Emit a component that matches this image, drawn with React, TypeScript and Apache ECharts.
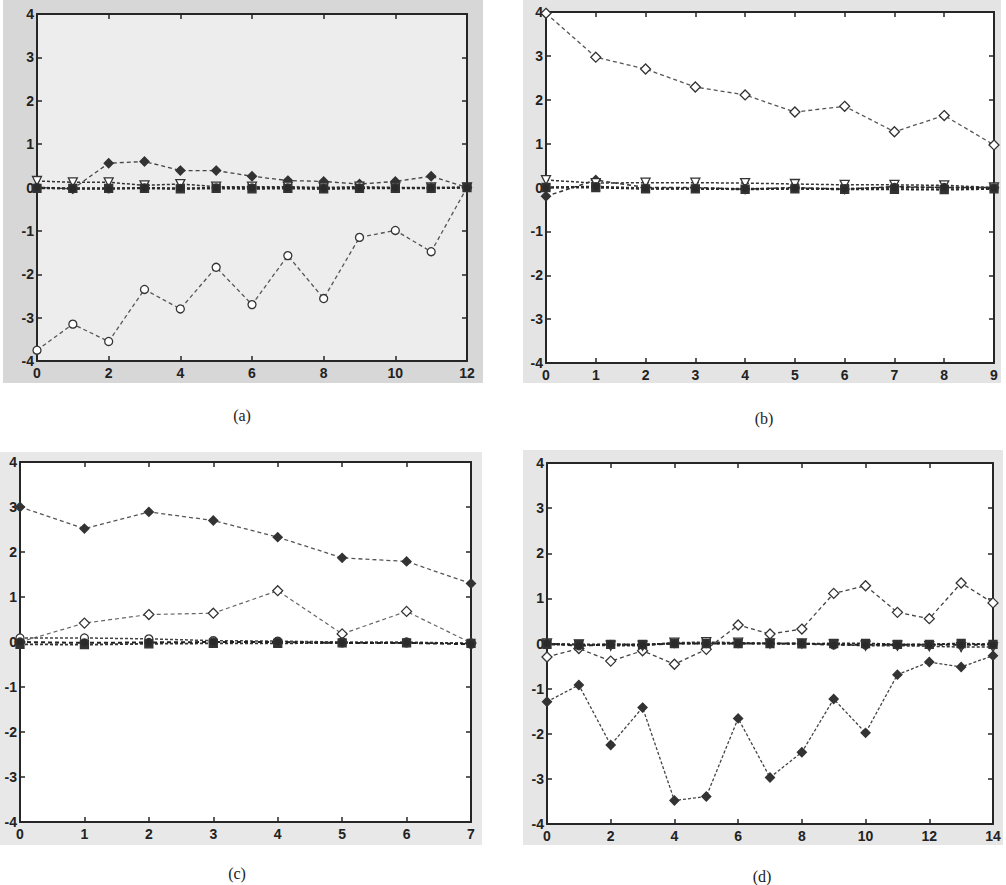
import React, { useEffect, useRef } from "react";
import * as echarts from "echarts";

// ---------- data ----------
// panel (a): x = 0..12
const aOpenCircle = [-3.75, -3.15, -3.55, -2.35, -2.8, -1.84, -2.7, -1.57, -2.56, -1.15, -0.99, -1.48, 0.0];
const aFilledDiamond = [0.0, -0.03, 0.56, 0.6, 0.39, 0.39, 0.26, 0.16, 0.14, 0.08, 0.14, 0.26, 0.0];
const aTriangle = [0.15, 0.12, 0.12, 0.05, 0.08, 0.02, 0.02, 0.02, 0.0, 0.02, 0.0, 0.0, 0.0];
const aSquare = [-0.02, -0.02, -0.02, -0.02, -0.03, -0.02, -0.03, -0.02, -0.03, -0.02, -0.02, -0.02, 0.0];
const aDot = [0.0, -0.03, -0.03, -0.01, -0.02, -0.01, -0.01, -0.01, -0.02, -0.01, -0.01, -0.01, 0.0];

// panel (b): x = 0..9
const bOpenDiamond = [3.97, 2.97, 2.7, 2.29, 2.11, 1.72, 1.85, 1.27, 1.64, 0.97];
const bFilledDiamond = [-0.2, 0.17, 0.0, 0.0, -0.04, 0.0, -0.04, 0.02, 0.0, 0.0];
const bTriangle = [0.17, 0.1, 0.11, 0.11, 0.1, 0.08, 0.06, 0.06, 0.05, 0.0];
const bSquare = [0.0, 0.0, -0.03, -0.03, -0.04, -0.03, -0.04, -0.04, -0.05, -0.03];
const bDot = [0.0, 0.02, -0.02, -0.02, -0.03, -0.02, -0.03, 0.0, 0.0, -0.02];

// panel (c): x = 0..7
const cFilledDiamond = [3.0, 2.52, 2.89, 2.7, 2.33, 1.87, 1.79, 1.3];
const cOpenDiamond = [0.0, 0.42, 0.61, 0.64, 1.14, 0.18, 0.68, -0.02];
const cOpenCircle = [0.09, 0.09, 0.07, 0.03, 0.02, 0.0, 0.0, -0.03];
const cSquare = [-0.05, -0.06, -0.04, -0.03, -0.03, -0.02, -0.02, -0.03];
const cDot = [0.0, -0.02, -0.01, 0.0, 0.0, -0.02, -0.02, -0.05];

// panel (d): x = 0..14
const dOpenDiamond = [-0.3, -0.11, -0.39, -0.16, -0.46, -0.13, 0.41, 0.21, 0.32, 1.11, 1.28, 0.69, 0.55, 1.34, 0.9];
const dFilledDiamond = [-1.29, -0.92, -2.25, -1.42, -3.48, -3.39, -1.66, -2.97, -2.41, -1.23, -1.98, -0.69, -0.41, -0.52, -0.27];
const dTriangle = [0.0, -0.02, -0.05, -0.05, 0.02, 0.03, 0.02, 0.0, 0.0, -0.02, -0.05, -0.05, -0.06, -0.08, -0.08];
const dSquare = [-0.02, -0.02, -0.02, -0.02, 0.0, 0.0, 0.0, 0.0, -0.01, 0.0, 0.0, -0.02, -0.02, 0.0, -0.02];
const dDot = [0.0, -0.05, -0.02, -0.03, 0.0, 0.0, 0.0, 0.0, 0.0, -0.03, -0.03, -0.03, -0.03, -0.03, -0.03];

const xMax = [12, 9, 7, 14];
const xStep = [2, 1, 1, 2];
const captions = ["(a)", "(b)", "(c)", "(d)"];

// ---------- helpers ----------
const ink = "#262626";

type Mk = "openDiamond" | "filledDiamond" | "openCircle" | "triangle" | "square" | "dot";

function series(gi: number, values: number[], mk: Mk, lineColor: string, lineWidth: number, dash: number[]) {
  let symbol = "circle";
  let size = 7;
  let fill = ink;
  let rotate = 0;
  if (mk === "openDiamond") { symbol = "diamond"; size = 10; fill = "#ffffff"; }
  if (mk === "filledDiamond") { symbol = "diamond"; size = 9; fill = "#333333"; }
  if (mk === "openCircle") { symbol = "circle"; size = 8; fill = "#ffffff"; }
  if (mk === "triangle") { symbol = "triangle"; size = 9; fill = "#ffffff"; rotate = 180; }
  if (mk === "square") { symbol = "rect"; size = 8; fill = "#333333"; }
  if (mk === "dot") { symbol = "circle"; size = 8; fill = "#2a2a2a"; }
  return {
    type: "line",
    xAxisIndex: gi * 2,
    yAxisIndex: gi * 2,
    data: values.map((v, i) => [i, v]),
    symbol,
    symbolSize: size,
    symbolRotate: rotate,
    showSymbol: true,
    clip: false,
    lineStyle: { color: lineColor, width: lineWidth, type: dash },
    itemStyle: { color: fill, borderColor: "#333333", borderWidth: 1.3 },
  };
}

const grids = [
  { left: 37, top: 14, width: 430, height: 347 },
  { left: 546, top: 12, width: 448, height: 351 },
  { left: 20, top: 462, width: 451, height: 360 },
  { left: 547, top: 463, width: 446, height: 361 },
];

function axisCommon() {
  return {
    axisLine: { show: true, onZero: false, lineStyle: { color: ink, width: 2 } },
    axisTick: { show: true, inside: true, length: 5, lineStyle: { color: ink, width: 1.5 } },
    splitLine: { show: false },
  };
}

const labelStyle = {
  color: "#222222",
  fontSize: 14,
  fontWeight: "bold" as const,
  fontFamily: "Liberation Sans, Arial, sans-serif",
};

export default function App() {
  const ref = useRef<HTMLDivElement>(null);
  useEffect(() => {
    if (!ref.current) return;
    const chart = echarts.init(ref.current, undefined, { renderer: "svg" });

    const xAxis: any[] = [];
    const yAxis: any[] = [];
    grids.forEach((g, gi) => {
      xAxis.push({
        type: "value", gridIndex: gi, min: 0, max: xMax[gi], interval: xStep[gi], position: "bottom",
        ...axisCommon(),
        axisLabel: { ...labelStyle, margin: 5 },
      });
      xAxis.push({
        type: "value", gridIndex: gi, min: 0, max: xMax[gi], interval: xStep[gi], position: "top",
        ...axisCommon(),
        axisLabel: { show: false },
      });
      yAxis.push({
        type: "value", gridIndex: gi, min: -4, max: 4, interval: 1, position: "left",
        ...axisCommon(),
        axisLabel: { ...labelStyle, margin: 3 },
      });
      yAxis.push({
        type: "value", gridIndex: gi, min: -4, max: 4, interval: 1, position: "right",
        ...axisCommon(),
        axisLabel: { show: false },
      });
    });

    const dash = [4, 3];
    const dot = [3, 2];
    const seriesList = [
      series(0, aOpenCircle, "openCircle", "#555555", 1.3, dash),
      series(0, aFilledDiamond, "filledDiamond", "#444444", 1.3, dash),
      series(0, aTriangle, "triangle", "#333333", 1.5, dot),
      series(0, aSquare, "square", "#2a2a2a", 2, dot),
      series(0, aDot, "dot", "#2a2a2a", 2, dot),

      series(1, bOpenDiamond, "openDiamond", "#555555", 1.3, dash),
      series(1, bFilledDiamond, "filledDiamond", "#333333", 1.5, dash),
      series(1, bTriangle, "triangle", "#333333", 1.5, dot),
      series(1, bSquare, "square", "#2a2a2a", 2, dot),
      series(1, bDot, "dot", "#2a2a2a", 2, dot),

      series(2, cFilledDiamond, "filledDiamond", "#555555", 1.3, dash),
      series(2, cOpenDiamond, "openDiamond", "#666666", 1.2, dash),
      series(2, cOpenCircle, "openCircle", "#444444", 1.5, dot),
      series(2, cSquare, "square", "#333333", 1.8, dot),
      series(2, cDot, "dot", "#222222", 2, dash),

      series(3, dOpenDiamond, "openDiamond", "#444444", 1.3, dash),
      series(3, dFilledDiamond, "filledDiamond", "#444444", 1.3, dot),
      series(3, dTriangle, "triangle", "#333333", 1.5, dot),
      series(3, dSquare, "square", "#2a2a2a", 2, dot),
      series(3, dDot, "dot", "#222222", 2, dash),
    ];

    const captionPos = [
      { x: 242, y: 415 },
      { x: 764, y: 418 },
      { x: 237, y: 873 },
      { x: 762, y: 876 },
    ];

    const panelBg = [
      { x: 3, y: 0, w: 480, h: 383, fill: "#d7d7d7" },
      { x: 523, y: 0, w: 478, h: 383, fill: "#e4e4e4" },
      { x: 0, y: 452, w: 482, h: 393, fill: "#e8e8e8" },
      { x: 523, y: 450, w: 480, h: 395, fill: "#e6e6e6" },
    ];

    chart.setOption({
      animation: false,
      backgroundColor: "#ffffff",
      grid: grids.map((g, gi) => ({
        ...g,
        show: true,
        backgroundColor: gi === 0 ? "#ededed" : "#ffffff",
        borderWidth: 0,
        containLabel: false,
      })),
      xAxis,
      yAxis,
      series: seriesList,
      graphic: [
        ...panelBg.map((p) => ({
          type: "rect",
          z: -10,
          silent: true,
          shape: { x: p.x, y: p.y, width: p.w, height: p.h },
          style: { fill: p.fill },
        })),
        ...captions.map((c, i) => ({
          type: "text",
          x: captionPos[i].x,
          y: captionPos[i].y,
          style: {
            text: c,
            fill: "#222222",
            font: "16px 'Liberation Serif', 'DejaVu Serif', serif",
            textAlign: "center",
            textVerticalAlign: "middle",
          },
        })),
      ],
    });
    return () => chart.dispose();
  }, []);

  return (
    <div
      ref={ref}
      style={{ position: "absolute", left: 0, top: 0, width: 1006, height: 885 }}
    />
  );
}
